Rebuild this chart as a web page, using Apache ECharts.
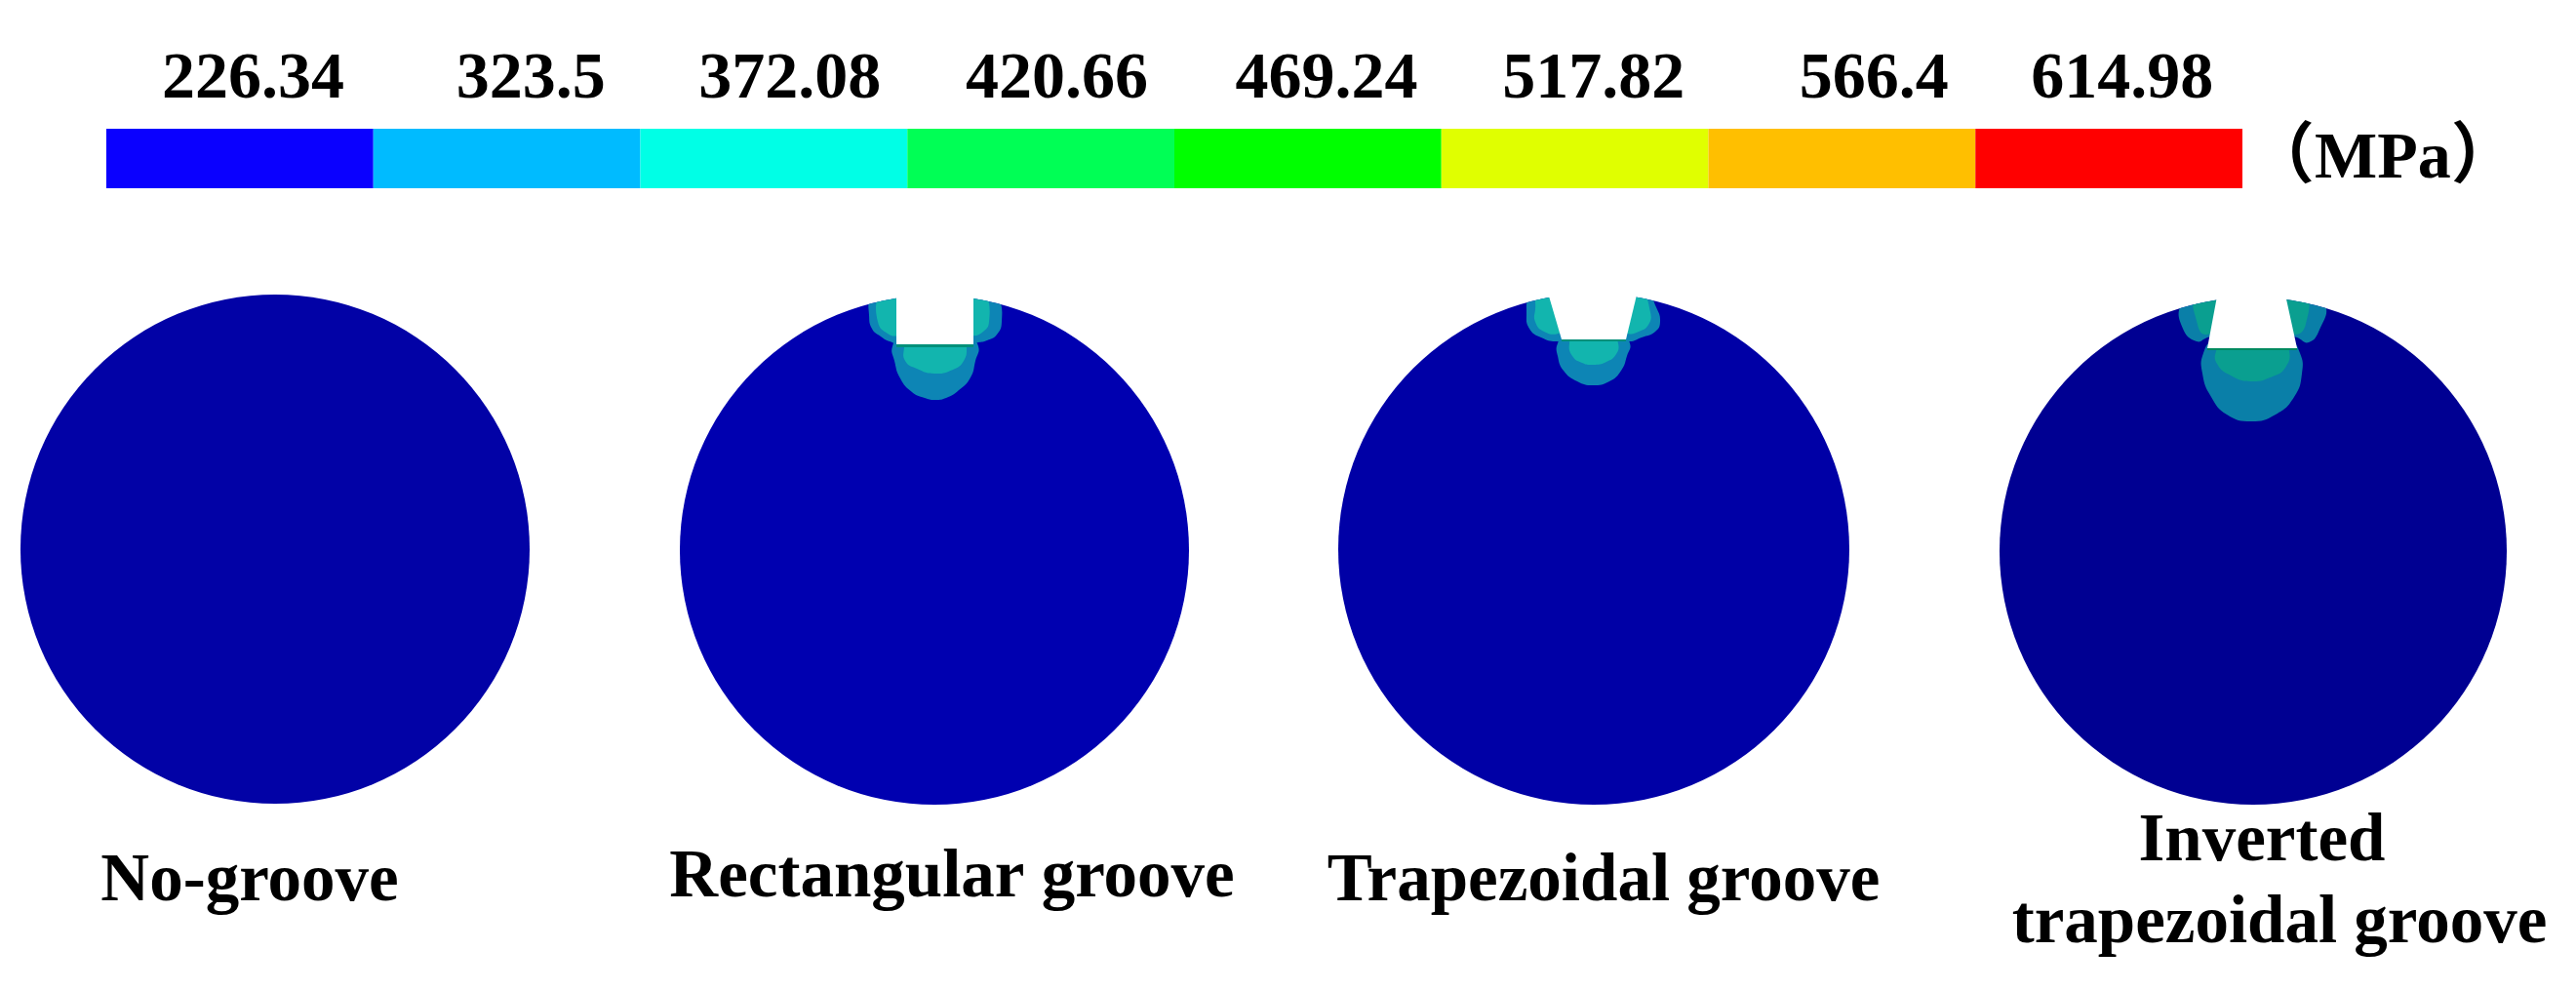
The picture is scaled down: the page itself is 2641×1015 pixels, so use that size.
<!DOCTYPE html>
<html lang="en">
<head>
    <meta charset="UTF-8">
    <title>groove stress</title>
    <style type="text/css">
        html, body { margin: 0; padding: 0; background: #fff; }
        #main { width: 2641px; height: 1015px; }
    </style>
</head>
<body>
    <div id="main"></div>
    <script src="https://cdn.jsdelivr.net/npm/echarts@6/dist/echarts.min.js"></script>
    <script type="text/javascript">
        // colour scale
        var tickLabels = ['226.34', '323.5', '372.08', '420.66', '469.24', '517.82', '566.4', '614.98'];
        var tickSpots = [0.55, 1.59, 2.56, 3.56, 4.57, 5.57, 6.62, 7.55];
        var bandColors = ['#0a00ff', '#00bbff', '#00ffe6', '#00ff55', '#00ff00', '#e0ff00', '#ffbf00', '#ff0000'];
        var unit = '（MPa）';

        // sections: centre x, centre y, radius
        var sectionNames = ['No-groove', 'Rectangular groove', 'Trapezoidal groove', 'Inverted', 'trapezoidal groove'];
        var discs = [[282, 563, 261], [958, 564, 261], [1634, 563, 262], [2310, 565, 260]];
        var discColors = ['#0202a6', '#0000b0', '#0000a6', '#000092'];

        // stress zones around each groove, ends run under the groove and past the rim
        var rectOuter = [
            [[925, 345], [915, 355], [917, 370], [923, 388], [935, 402], [948, 408], [958, 410], [970, 408], [983, 400], [995, 387], [1000, 370], [1003, 355], [992, 345]],
            [[892, 305], [891, 323], [894, 337], [903, 345], [912, 350], [925, 352], [925, 295], [900, 295]],
            [[1024, 305], [1027, 330], [1022, 343], [1012, 349], [1003, 351], [992, 352], [992, 296], [1015, 296]]
        ];
        var rectInner = [
            [[930, 345], [927, 356], [928, 370], [940, 378], [958, 383], [977, 379], [988, 370], [991, 356], [988, 345]],
            [[900, 300], [900, 330], [910, 342], [921, 344], [928, 338], [928, 296], [905, 296]],
            [[1012, 300], [1014, 330], [1008, 340], [996, 344], [990, 338], [990, 296], [1008, 296]]
        ];
        var rectGroove = [[919, 295], [998, 295], [998, 353], [919, 353]];
        var rectEdge = [[919, 352], [998, 352], [998, 356], [919, 356]];

        var trapOuter = [
            [[1607, 340], [1597, 352], [1597, 365], [1603, 380], [1617, 391], [1633, 395], [1650, 391], [1662, 380], [1668, 365], [1671, 352], [1660, 340]],
            [[1568, 300], [1565, 322], [1568, 337], [1580, 346], [1597, 350], [1612, 345], [1595, 290], [1575, 292]],
            [[1685, 292], [1698, 315], [1702, 330], [1697, 340], [1683, 346], [1670, 350], [1655, 345], [1670, 290]]
        ];
        var trapInner = [
            [[1615, 340], [1609, 352], [1612, 365], [1622, 372], [1633, 374], [1647, 371], [1657, 363], [1659, 352], [1652, 340]],
            [[1577, 298], [1574, 317], [1574, 330], [1583, 340], [1598, 342], [1605, 335], [1595, 295]],
            [[1682, 295], [1692, 320], [1690, 333], [1680, 340], [1669, 342], [1660, 335], [1672, 295]]
        ];
        var trapGroove = [[1584, 290], [1681, 290], [1667, 348], [1601, 348]];
        var trapEdge = [[1601, 347], [1667, 347], [1667, 350], [1601, 350]];

        var invOuter = [
            [[2270, 350], [2259, 362], [2258, 383], [2267, 407], [2283, 425], [2308, 432], [2333, 425], [2352, 407], [2360, 383], [2358, 362], [2347, 350]],
            [[2236, 312], [2238, 337], [2252, 350], [2263, 346], [2280, 340], [2285, 296], [2255, 296]],
            [[2384, 312], [2378, 338], [2367, 351], [2355, 346], [2338, 340], [2335, 296], [2365, 296]]
        ];
        var invInner = [
            [[2280, 350], [2272, 360], [2273, 373], [2287, 385], [2308, 391], [2330, 386], [2343, 377], [2347, 360], [2338, 350]],
            [[2252, 300], [2253, 333], [2262, 343], [2280, 330], [2285, 296]],
            [[2335, 296], [2363, 300], [2364, 332], [2353, 343], [2338, 330]]
        ];
        var invGroove = [[2275, 293], [2341, 293], [2355, 357], [2263, 357]];
        var invEdge = [[2263, 356], [2355, 356], [2355, 359], [2263, 359]];

        var zones = [];
        function addZones(list, disc, color) {
            list.forEach(function (points) { zones.push({ points: points, disc: disc, color: color, smooth: 0.5 }); });
        }
        addZones(rectOuter, 1, '#0d85b5');
        addZones(rectInner, 1, '#12b5ae');
        zones.push({ points: rectEdge, disc: 1, color: '#00907a', smooth: 0 });
        zones.push({ points: rectGroove, color: '#fff', smooth: 0 });
        addZones(trapOuter, 2, '#0d85b5');
        addZones(trapInner, 2, '#12b5ae');
        zones.push({ points: trapEdge, disc: 2, color: '#00907a', smooth: 0 });
        zones.push({ points: trapGroove, color: '#fff', smooth: 0 });
        addZones(invOuter, 3, '#0a7fa8');
        addZones(invInner, 3, '#0a9f90');
        zones.push({ points: invEdge, disc: 3, color: '#008a60', smooth: 0 });
        zones.push({ points: invGroove, color: '#fff', smooth: 0 });

        var captions = [
            { left: 256, top: 871 },
            { left: 976, top: 867 },
            { left: 1644, top: 871 },
            { left: 2319, top: 830 },
            { left: 2337, top: 914 }
        ];

        var myChart = echarts.init(document.getElementById('main'));
        var font = '"Liberation Serif", "Noto Sans CJK SC", serif';

        var option = {
            backgroundColor: '#fff',
            animation: false,
            title: sectionNames.map(function (name, i) {
                return {
                    text: name,
                    left: captions[i].left,
                    top: captions[i].top,
                    textAlign: 'center',
                    padding: 0,
                    textStyle: { fontFamily: font, fontWeight: 'bold', fontSize: 69, color: '#000' }
                };
            }).concat([{
                text: unit,
                left: 2305,
                top: 130,
                padding: 0,
                textStyle: { fontFamily: font, fontWeight: 'bold', fontSize: 68, color: '#000' }
            }]),
            grid: [
                { left: 109, top: 132, width: 2190, height: 61 },
                { left: 0, top: 0, width: 2641, height: 1015 }
            ],
            xAxis: [
                {
                    type: 'value',
                    gridIndex: 0,
                    position: 'top',
                    min: 0,
                    max: 8,
                    axisLine: { show: false },
                    axisTick: { show: false },
                    splitLine: { show: false },
                    axisLabel: {
                        customValues: tickSpots,
                        margin: 16,
                        fontFamily: font,
                        fontWeight: 'bold',
                        fontSize: 68,
                        color: '#000',
                        formatter: function (v) { return tickLabels[tickSpots.indexOf(v)]; }
                    }
                },
                { type: 'value', gridIndex: 1, min: 0, max: 2641, show: false }
            ],
            yAxis: [
                { type: 'value', gridIndex: 0, min: 0, max: 1, show: false },
                { type: 'value', gridIndex: 1, min: 0, max: 1015, inverse: true, show: false }
            ],
            series: [
                {
                    type: 'custom',
                    xAxisIndex: 0,
                    yAxisIndex: 0,
                    silent: true,
                    data: bandColors.map(function (c, i) { return [i]; }),
                    renderItem: function (params, api) {
                        var i = api.value(0);
                        var a = api.coord([i, 1]);
                        var b = api.coord([i + 1, 0]);
                        return {
                            type: 'rect',
                            shape: { x: a[0], y: a[1], width: b[0] - a[0], height: b[1] - a[1] },
                            style: { fill: bandColors[i] }
                        };
                    }
                },
                {
                    type: 'custom',
                    xAxisIndex: 1,
                    yAxisIndex: 1,
                    silent: true,
                    data: discs,
                    renderItem: function (params, api) {
                        var c = api.coord([api.value(0), api.value(1)]);
                        return {
                            type: 'circle',
                            shape: { cx: c[0], cy: c[1], r: api.size([api.value(2), 0])[0] },
                            style: { fill: discColors[params.dataIndex] }
                        };
                    }
                },
                {
                    type: 'custom',
                    xAxisIndex: 1,
                    yAxisIndex: 1,
                    silent: true,
                    z: 3,
                    data: zones.map(function (z, i) { return [z.points[0][0], z.points[0][1], i]; }),
                    renderItem: function (params, api) {
                        var zone = zones[params.dataIndex];
                        var el = {
                            type: 'polygon',
                            shape: { points: zone.points.map(function (p) { return api.coord(p); }), smooth: zone.smooth },
                            style: { fill: zone.color }
                        };
                        // keep the zone inside its disc
                        if (zone.disc !== undefined) {
                            var d = discs[zone.disc];
                            var c = api.coord([d[0], d[1]]);
                            el.clipPath = { type: 'circle', shape: { cx: c[0], cy: c[1], r: api.size([d[2], 0])[0] } };
                        }
                        return el;
                    }
                }
            ]
        };
        myChart.setOption(option);
    </script>
</body>
</html>
